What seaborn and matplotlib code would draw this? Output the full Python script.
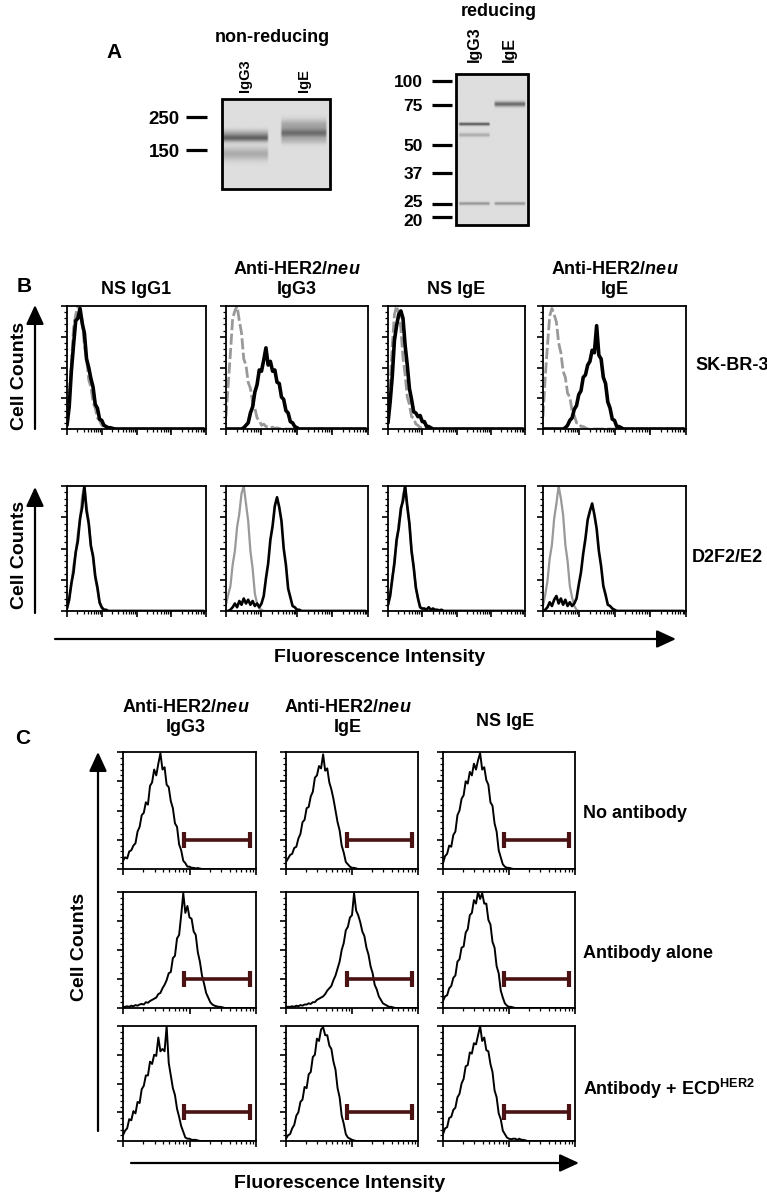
import numpy as np
import seaborn as sns
import matplotlib
matplotlib.use("Agg")
import matplotlib.pyplot as plt
from matplotlib.patches import Rectangle
from matplotlib.transforms import ScaledTranslation
from matplotlib.ticker import LogLocator, MultipleLocator, NullFormatter

# ---------------- data ----------------
# A. gels: marker sizes (kDa) and migration (fraction of gel height)
nonred_markers = ["250", "150"]
nonred_marker_pos = [0.20, 0.567]
nonred_lanes = ["IgG3", "IgE"]
nonred_band_lane = [0, 0, 0, 1, 1, 1]
nonred_band_pos = [0.435, 0.38, 0.61, 0.38, 0.29, 0.46]
nonred_band_depth = [115, 45, 50, 105, 55, 35]
nonred_band_width = [0.028, 0.03, 0.05, 0.035, 0.045, 0.03]

red_markers = ["100", "75", "50", "37", "25", "20"]
red_marker_pos = [0.046, 0.205, 0.47, 0.656, 0.861, 0.947]
red_lanes = ["IgG3", "IgE"]
red_band_lane = [0, 0, 1, 0, 1]
red_band_pos = [0.331, 0.403, 0.198, 0.859, 0.859]
red_band_depth = [135, 50, 115, 75, 75]
red_band_width = [0.007, 0.009, 0.012, 0.007, 0.007]

# B. flow histograms, 64 channels over 4 decades (normalised counts)
b_titles_top = ["", "Anti-HER2/$\\it{neu}$", "", "Anti-HER2/$\\it{neu}$"]
b_titles_bottom = ["NS IgG1", "IgG3", "NS IgE", "IgE"]
b_cells = ["SK-BR-3", "D2F2/E2"]

sk_gray = [
    [0.05, 0.26, 0.52, 0.82, 0.93, 1.0, 0.96, 0.88, 0.68, 0.57, 0.40, 0.34, 0.22, 0.17, 0.09, 0.07, 0.03, 0.02, 0.01, 0.01],
    [0.1, 0.36, 0.62, 0.9, 0.96, 1.0, 0.88, 0.78, 0.57, 0.52, 0.38, 0.33, 0.22, 0.17, 0.09, 0.07, 0.03, 0.04, 0.02, 0.02,
     0.01, 0.015, 0.005, 0.01, 0.005],
    [0.08, 0.36, 0.68, 0.93, 1.0, 0.94, 0.82, 0.58, 0.44, 0.26, 0.2, 0.1, 0.09, 0.04, 0.03, 0.01, 0.01],
    [0.1, 0.42, 0.68, 0.92, 0.98, 0.93, 0.87, 0.7, 0.62, 0.47, 0.42, 0.29, 0.26, 0.15, 0.11, 0.05, 0.05, 0.02, 0.02, 0.01],
]
sk_black = [
    [0.03, 0.18, 0.47, 0.68, 0.88, 0.9, 0.98, 0.86, 0.78, 0.57, 0.5, 0.41, 0.34, 0.2, 0.17, 0.08, 0.07, 0.03, 0.02, 0.01,
     0.01, 0.005],
    [0, 0, 0, 0, 0, 0, 0, 0, 0.01, 0.03, 0.05, 0.13, 0.18, 0.3, 0.36, 0.48, 0.47, 0.56, 0.66, 0.52, 0.55, 0.47, 0.48,
     0.38, 0.37, 0.26, 0.24, 0.15, 0.13, 0.06, 0.05, 0.02, 0.01],
    [0.05, 0.22, 0.43, 0.72, 0.84, 0.93, 0.96, 0.9, 0.68, 0.52, 0.33, 0.24, 0.14, 0.13, 0.1, 0.11, 0.06, 0.06, 0.02, 0.02,
     0.01],
    [0, 0, 0, 0, 0, 0, 0, 0, 0, 0, 0.01, 0.03, 0.07, 0.09, 0.16, 0.19, 0.28, 0.31, 0.42, 0.44, 0.52, 0.55, 0.64, 0.62,
     0.84, 0.6, 0.57, 0.42, 0.37, 0.22, 0.17, 0.08, 0.07, 0.02, 0.02, 0.01],
]
d2_gray = [
    [0.02, 0.11, 0.21, 0.37, 0.46, 0.62, 0.73, 0.92, 1.0, 0.84, 0.72, 0.53, 0.42, 0.26, 0.17, 0.06, 0.02, 0.01],
    [0.05, 0.13, 0.2, 0.37, 0.48, 0.67, 0.78, 0.94, 1.0, 0.86, 0.72, 0.48, 0.34, 0.14, 0.06, 0.02, 0.01],
    [0.04, 0.14, 0.24, 0.42, 0.53, 0.7, 0.78, 0.93, 1.0, 0.83, 0.7, 0.48, 0.36, 0.18, 0.11, 0.03, 0.01],
    [0.04, 0.13, 0.24, 0.42, 0.53, 0.74, 0.86, 1.0, 0.9, 0.77, 0.53, 0.4, 0.2, 0.11, 0.04, 0.01],
]
d2_black = [
    [0.02, 0.09, 0.22, 0.31, 0.47, 0.56, 0.74, 0.83, 1.0, 0.8, 0.7, 0.52, 0.44, 0.28, 0.19, 0.07, 0.03, 0.01, 0.01],
    [0, 0, 0.01, 0.03, 0.06, 0.03, 0.08, 0.05, 0.1, 0.06, 0.09, 0.05, 0.08, 0.04, 0.06, 0.03, 0.06, 0.12, 0.26, 0.38,
     0.57, 0.68, 0.84, 0.91, 0.83, 0.72, 0.5, 0.37, 0.18, 0.11, 0.04, 0.03, 0.01, 0.01],
    [0.05, 0.12, 0.26, 0.38, 0.57, 0.66, 0.82, 0.88, 1.0, 0.84, 0.7, 0.48, 0.35, 0.19, 0.1, 0.03, 0.02, 0.02, 0.01, 0.03,
     0.01, 0.02, 0.01, 0.01, 0.005, 0.01],
    [0, 0.01, 0.03, 0.07, 0.04, 0.09, 0.12, 0.06, 0.1, 0.05, 0.09, 0.04, 0.07, 0.04, 0.06, 0.1, 0.21, 0.31, 0.46, 0.58,
     0.73, 0.8, 0.86, 0.77, 0.66, 0.48, 0.36, 0.2, 0.13, 0.05, 0.04, 0.02, 0.01],
]

# C. competition, 64 channels over 2 decades
c_titles_top = ["Anti-HER2/$\\it{neu}$", "Anti-HER2/$\\it{neu}$", ""]
c_titles_bottom = ["IgG3", "IgE", "NS IgE"]
c_rows = ["No antibody", "Antibody alone", "Antibody + ECD$^{\\mathbf{HER2}}$"]
c_none = [
    [0.07, 0.1, 0.09, 0.15, 0.16, 0.2, 0.22, 0.32, 0.36, 0.46, 0.48, 0.57, 0.55, 0.71, 0.74, 0.85, 0.8, 0.9, 0.99, 0.85,
     0.87, 0.72, 0.7, 0.58, 0.52, 0.39, 0.36, 0.21, 0.16, 0.07, 0.05, 0.02, 0.02, 0.01, 0.01, 0.005, 0.008, 0.004],
    [0.06, 0.09, 0.12, 0.13, 0.18, 0.19, 0.26, 0.3, 0.4, 0.42, 0.52, 0.53, 0.62, 0.66, 0.78, 0.8, 0.88, 0.86, 0.98, 0.84,
     0.86, 0.74, 0.68, 0.6, 0.5, 0.4, 0.33, 0.2, 0.14, 0.06, 0.04, 0.02, 0.01, 0.01, 0.005],
    [0.05, 0.11, 0.13, 0.2, 0.19, 0.29, 0.32, 0.46, 0.5, 0.6, 0.63, 0.75, 0.73, 0.83, 0.8, 0.9, 0.85, 0.93, 0.99, 0.85,
     0.87, 0.76, 0.72, 0.57, 0.54, 0.39, 0.32, 0.16, 0.1, 0.04, 0.02, 0.01, 0.01, 0.005],
]
c_alone = [
    [0.01, 0.01, 0.015, 0.01, 0.02, 0.015, 0.025, 0.02, 0.03, 0.035, 0.03, 0.05, 0.045, 0.06, 0.07, 0.08, 0.09, 0.12,
     0.13, 0.17, 0.2, 0.24, 0.3, 0.31, 0.43, 0.45, 0.6, 0.63, 0.8, 0.99, 0.82, 0.88, 0.78, 0.77, 0.66, 0.63, 0.48, 0.4,
     0.28, 0.21, 0.13, 0.09, 0.05, 0.03, 0.02, 0.015, 0.01, 0.01, 0.005],
    [0.01, 0.01, 0.01, 0.015, 0.01, 0.02, 0.015, 0.025, 0.02, 0.03, 0.03, 0.04, 0.035, 0.05, 0.05, 0.07, 0.08, 0.09, 0.1,
     0.12, 0.15, 0.17, 0.19, 0.24, 0.28, 0.34, 0.4, 0.5, 0.56, 0.67, 0.7, 0.78, 0.8, 0.99, 0.84, 0.8, 0.74, 0.66, 0.62,
     0.52, 0.46, 0.36, 0.3, 0.2, 0.16, 0.1, 0.07, 0.04, 0.03, 0.02, 0.01, 0.01, 0.005],
    [0.06, 0.1, 0.11, 0.17, 0.19, 0.26, 0.28, 0.4, 0.42, 0.52, 0.53, 0.65, 0.68, 0.8, 0.82, 0.93, 0.9, 1.0, 0.94, 0.99,
     0.9, 0.9, 0.76, 0.72, 0.57, 0.52, 0.36, 0.3, 0.15, 0.09, 0.04, 0.02, 0.01, 0.01, 0.005],
]
c_ecd = [
    [0.05, 0.09, 0.11, 0.19, 0.18, 0.26, 0.24, 0.34, 0.33, 0.45, 0.48, 0.57, 0.57, 0.69, 0.67, 0.75, 0.74, 0.9, 0.78,
     0.8, 0.78, 1.0, 0.68, 0.57, 0.46, 0.4, 0.28, 0.21, 0.13, 0.08, 0.03, 0.02, 0.02, 0.01, 0.01, 0.01, 0.005],
    [0.02, 0.05, 0.06, 0.11, 0.14, 0.22, 0.25, 0.34, 0.36, 0.47, 0.46, 0.58, 0.6, 0.73, 0.75, 0.89, 0.87, 0.97, 0.99,
     0.92, 0.92, 0.83, 0.8, 0.69, 0.62, 0.46, 0.38, 0.22, 0.15, 0.06, 0.03, 0.02, 0.01, 0.005],
    [0.06, 0.11, 0.12, 0.2, 0.21, 0.27, 0.29, 0.38, 0.41, 0.5, 0.54, 0.65, 0.66, 0.77, 0.76, 0.85, 0.84, 0.92, 1.0,
     0.87, 0.9, 0.79, 0.78, 0.67, 0.6, 0.44, 0.38, 0.24, 0.19, 0.09, 0.06, 0.03, 0.02, 0.015, 0.02, 0.02, 0.01, 0.02,
     0.01, 0.01, 0.005],
]
gate = [8.3, 80]  # M1 marker, fluorescence units
gate_level = 0.25

# ---------------- style / layout ----------------
W, H = 767, 1194
sns.set_style("ticks")
plt.rcParams["font.family"] = ["Liberation Sans", "DejaVu Sans"]
plt.rcParams["font.weight"] = "bold"
plt.rcParams["text.color"] = "black"
plt.rcParams["xtick.color"] = "black"
plt.rcParams["ytick.color"] = "black"
plt.rcParams["xtick.labelcolor"] = "black"
plt.rcParams["ytick.labelcolor"] = "black"
plt.rcParams["mathtext.fontset"] = "custom"
plt.rcParams["mathtext.rm"] = "Liberation Sans:bold"
plt.rcParams["mathtext.bf"] = "Liberation Sans:bold"
plt.rcParams["mathtext.it"] = "Liberation Sans:italic:bold"

fig = plt.figure(figsize=(W / 100, H / 100), dpi=100)
PT = 72 / 100  # points per pixel


def rect(x0, y0, x1, y1):
    return [x0 / W, 1 - y1 / H, (x1 - x0) / W, (y1 - y0) / H]


ov = fig.add_axes([0, 0, 1, 1])
ov.set_xlim(0, W)
ov.set_ylim(H, 0)
ov.axis("off")


def txt(x, y, s, size=13, ha="center", va="center", rot=0):
    ov.text(x, y, s, fontsize=size, ha=ha, va=va, rotation=rot, fontweight="bold", color="black")


def arrow(x0, y0, x1, y1):
    ov.annotate("", xy=(x1, y1), xytext=(x0, y0),
                arrowprops=dict(arrowstyle="-|>,head_length=0.65,head_width=0.3", lw=1.6,
                                color="black", mutation_scale=18, shrinkA=0, shrinkB=0))


# ---------------- A: gels ----------------
def gel(box, lanes, lane_centers, band_lane, band_pos, band_depth, band_width,
        markers, marker_pos, gap, tick_len, label_pad, lane_pad, lane_fs, mk_fs):
    ax = fig.add_axes(rect(*box))
    yy = np.linspace(0, 1, 300)[:, None]
    xx = np.linspace(0, 1, 150)[None, :]
    img = np.full((300, 150), 222.0)
    for ln, p, d, w in zip(band_lane, band_pos, band_depth, band_width):
        c = lane_centers[ln]
        mask = np.clip((0.22 - np.abs(xx - c)) / 0.02, 0, 1)
        img -= d * mask * np.exp(-0.5 * ((yy - p) / w) ** 2)
    ax.imshow(img, cmap="gray", vmin=0, vmax=255, extent=[0, 1, 1, 0], aspect="auto",
              interpolation="bilinear")
    ax.set_xlim(0, 1)
    ax.set_ylim(1, 0)
    for s in ax.spines.values():
        s.set_visible(False)
    ax.add_patch(Rectangle((0, 0), 1, 1, transform=ax.transAxes, fill=False, lw=2,
                           ec="black", clip_on=False))
    ax.spines["left"].set_position(("outward", gap * PT))
    ax.set_yticks(marker_pos)
    ax.set_yticklabels(markers, fontsize=mk_fs, fontweight="bold")
    ax.tick_params(axis="y", length=tick_len * PT, width=2.3, pad=label_pad * PT,
                   direction="out", color="black")
    ax.xaxis.tick_top()
    ax.set_xticks(lane_centers)
    ax.set_xticklabels(lanes, rotation=90, fontsize=lane_fs, fontweight="bold")
    ax.tick_params(axis="x", length=0, pad=lane_pad * PT)
    return ax


gel((222, 99, 330, 189), nonred_lanes, [0.215, 0.76], nonred_band_lane, nonred_band_pos,
    nonred_band_depth, nonred_band_width, nonred_markers, nonred_marker_pos,
    15, 21, 6, 7, 10.5, 13.5)
gax = gel((456, 74, 528, 225), red_lanes, [0.25, 0.74], red_band_lane, red_band_pos,
          red_band_depth, red_band_width, red_markers, red_marker_pos,
          4, 20, 9, 12, 11.5, 12.5)
# the 25 and 20 kDa labels sit very close: nudge them apart a little
labs = gax.get_yticklabels()
labs[4].set_transform(labs[4].get_transform() + ScaledTranslation(0, 3 / 100, fig.dpi_scale_trans))
labs[5].set_transform(labs[5].get_transform() + ScaledTranslation(0, -3 / 100, fig.dpi_scale_trans))
txt(114, 52, "A", 15)
txt(272, 38, "non-reducing")
txt(499, 11, "reducing")


# ---------------- histogram axes ----------------
def hist_axes(box):
    ax = fig.add_axes(rect(*box))
    ax.set_xscale("log")
    ax.xaxis.set_major_locator(LogLocator(base=10, numticks=12))
    ax.xaxis.set_minor_locator(LogLocator(base=10, subs=np.arange(2, 10), numticks=12))
    ax.xaxis.set_minor_formatter(NullFormatter())
    ax.yaxis.set_major_locator(MultipleLocator(0.25))
    ax.yaxis.set_minor_locator(MultipleLocator(0.05))
    ax.tick_params(which="both", direction="out", labelbottom=False, labelleft=False,
                   top=False, right=False, color="black")
    ax.tick_params(which="major", length=4, width=1.2)
    ax.tick_params(which="minor", length=2.5, width=0.9)
    for s in ax.spines.values():
        s.set_linewidth(1.3)
        s.set_color("black")
    return ax


def trace(ax, ch, counts, color, lw, ls="-"):
    y = np.zeros(len(ch))
    y[:len(counts)] = counts
    sns.lineplot(x=ch, y=y, ax=ax, color=color, linewidth=lw, linestyle=ls,
                 estimator=None, sort=False, legend=False)


def finish(ax, decades):
    ax.set_xlim(1, 10 ** decades)
    ax.set_ylim(0, 1)
    ax.set_xlabel("")
    ax.set_ylabel("")


# ---------------- B ----------------
ch_b = 10 ** (np.arange(64) / 16)
b_cols = [(67, 206), (226, 368), (388, 525), (543, 686)]
b_rows = [(306, 429), (486, 611)]
gray = "#999999"
for r, (gsets, ksets) in enumerate([(sk_gray, sk_black), (d2_gray, d2_black)]):
    y0, y1 = b_rows[r]
    for c, (x0, x1) in enumerate(b_cols):
        ax = hist_axes((x0, y0, x1, y1))
        if r == 0:
            trace(ax, ch_b, gsets[c], gray, 2.0, (0, (4, 1.2)))
            trace(ax, ch_b, ksets[c], "black", 2.6)
        else:
            trace(ax, ch_b, gsets[c], gray, 1.6)
            trace(ax, ch_b, ksets[c], "black", 1.9)
        finish(ax, 4)

for c, (x0, x1) in enumerate(b_cols):
    xc = (x0 + x1) / 2
    if b_titles_top[c]:
        txt(xc, 270, b_titles_top[c])
    txt(xc, 289, b_titles_bottom[c])
txt(24, 286, "B", 15)
txt(695, 365, b_cells[0], ha="left")
txt(692, 558, b_cells[1], ha="left")
txt(20, 376, "Cell Counts", 14, rot=90)
txt(20, 555, "Cell Counts", 14, rot=90)
arrow(35, 429, 35, 305)
arrow(35, 613, 35, 487)
arrow(55, 639, 676, 639)
txt(380, 657, "Fluorescence Intensity", 14)

# ---------------- C ----------------
ch_c = 10 ** (np.arange(64) / 32)
c_cols = [(123, 256), (286, 418), (443, 575)]
c_rowbox = [(752, 869), (892, 1008), (1026, 1141)]
for r, sets in enumerate([c_none, c_alone, c_ecd]):
    y0, y1 = c_rowbox[r]
    for c, (x0, x1) in enumerate(c_cols):
        ax = hist_axes((x0, y0, x1, y1))
        trace(ax, ch_c, sets[c], "black", 1.4)
        ax.plot(gate, [gate_level, gate_level], color="#4a1212", lw=2.6, marker="|",
                ms=11.5, mew=3, solid_capstyle="butt")
        finish(ax, 2)

for c, (x0, x1) in enumerate(c_cols):
    xc = (x0 + x1) / 2 - 4
    if c_titles_top[c]:
        txt(xc, 707, c_titles_top[c])
        txt(xc, 727, c_titles_bottom[c])
    else:
        txt(xc, 722, c_titles_bottom[c])
txt(23, 738, "C", 15)
for lab, y in zip(c_rows, [813, 953, 1089]):
    txt(583, y, lab, ha="left")
txt(80, 947, "Cell Counts", 14, rot=90)
arrow(98, 1131, 98, 752)
arrow(131, 1163, 579, 1163)
txt(340, 1183, "Fluorescence Intensity", 14)

fig.savefig("out.png", dpi=100)
